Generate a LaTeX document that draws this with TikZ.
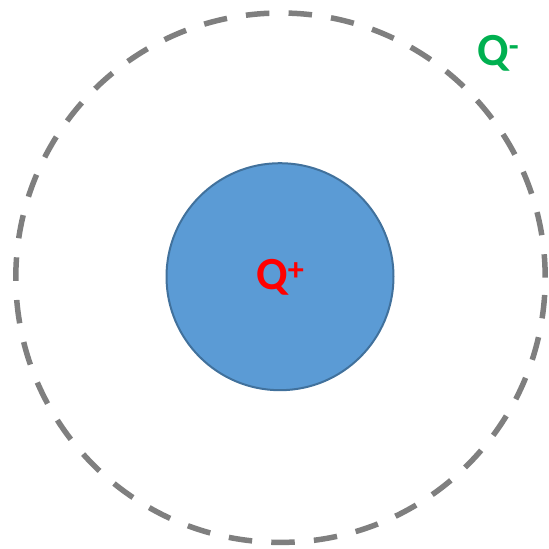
\documentclass[tikz,border=0pt]{standalone}
\usepackage{fontspec}
\setmainfont{Carlito}
\definecolor{ringgray}{HTML}{7F7F7F}
\definecolor{ballfill}{HTML}{5B9BD5}
\definecolor{balledge}{HTML}{41719C}
\definecolor{qred}{HTML}{FF0000}
\definecolor{qgreen}{HTML}{00B050}
\tikzset{
  ring/.style={draw=ringgray, line width=5.5pt, dash pattern=on 23.5pt off 19.2pt},
  ball/.style={circle, fill=ballfill, draw=balledge, line width=2pt, minimum size=227pt, inner sep=0pt},
  charge/.style={font=\bfseries\fontsize{46}{54}\selectfont, inner sep=0pt}
}
\begin{document}
\begin{tikzpicture}[x=1pt,y=1pt]
\useasboundingbox (0,0) rectangle (549,549);
\coordinate (oc) at (280.5,271.3);
\draw[ring] (oc) circle[radius=264.7pt];
\node[ball] (inner) at (280,272.3) {};
\node[charge, text=qred, anchor=base west] (qplus) at (256,259) {Q\textsuperscript{+}};
\node[charge, text=qgreen, anchor=base west] (qminus) at (477,483) {Q\textsuperscript{-}};
\end{tikzpicture}
\end{document}
